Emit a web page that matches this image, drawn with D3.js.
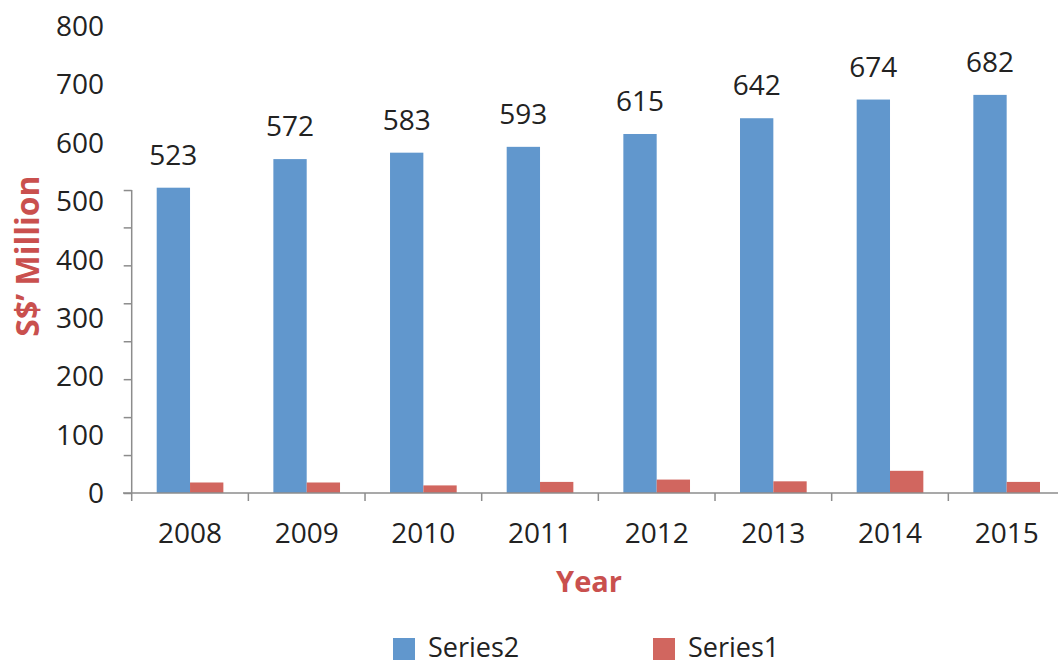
<!DOCTYPE html>
<html>
<head>
<meta charset="utf-8">
<script src="https://cdn.jsdelivr.net/npm/d3@7"></script>
<style>
  body { margin: 0; background: #fff; }
  svg { display: block; font-family: "Open Sans", "Noto Sans", sans-serif; }
</style>
</head>
<body>
<script>
// chart data
const years = ["2008", "2009", "2010", "2011", "2012", "2013", "2014", "2015"];
const series2 = [523, 572, 583, 593, 615, 642, 674, 682];
const series1 = [18, 18, 13, 19, 23, 20, 38, 19];
const yTickLabels = [0, 100, 200, 300, 400, 500, 600, 700, 800];
// the drawn axis line only runs part way up, with its own small marks
const axisMarks = [0, 65, 130, 195, 260, 325, 390, 455, 519];
const seriesNames = ["Series2", "Series1"];

const W = 1058, H = 663;
const COLORS = { Series2: "#6197cd", Series1: "#d1665f" };
const TITLE_RED = "#c9504e";
const AXIS_GRAY = "#8c8c8c";

const svg = d3.select("body").append("svg")
    .attr("width", W)
    .attr("height", H);

// scales
const y = d3.scaleLinear()
    .domain([0, 800])
    .range([493, 26]);

const x = d3.scaleBand()
    .domain(years)
    .range([131.7, 1065])   // last band runs past the right edge
    .paddingInner(0.4286)
    .paddingOuter(0.2143);

const xSub = d3.scaleBand()
    .domain(seriesNames)
    .range([0, x.bandwidth()]);

const rows = years.map((yr, i) => ({ year: yr, Series2: series2[i], Series1: series1[i] }));

// bars
const groups = svg.append("g").selectAll("g")
    .data(rows)
    .join("g")
    .attr("transform", d => `translate(${x(d.year)},0)`);

groups.selectAll("rect")
    .data(d => seriesNames.map(k => ({ key: k, value: d[k] })))
    .join("rect")
    .attr("x", d => xSub(d.key))
    .attr("width", xSub.bandwidth())
    .attr("y", d => y(d.value))
    .attr("height", d => y(0) - y(d.value))
    .attr("fill", d => COLORS[d.key]);

// value labels on Series2
svg.append("g").selectAll("text")
    .data(rows)
    .join("text")
    .attr("x", d => x(d.year) + xSub("Series2") + xSub.bandwidth() / 2)
    .attr("y", d => y(d.Series2) - 23)
    .attr("text-anchor", "middle")
    .attr("font-size", 28)
    .attr("fill", "#222")
    .text(d => d.Series2);

// x axis: line + marks between categories
const xAxisG = svg.append("g").attr("transform", `translate(0,${y(0)})`);
xAxisG.append("line")
    .attr("x1", 123).attr("x2", W)
    .attr("stroke", AXIS_GRAY).attr("stroke-width", 1.5);
const step = x.step();
xAxisG.selectAll(".xmark")
    .data(d3.range(years.length + 1))
    .join("line")
    .attr("class", "xmark")
    .attr("x1", i => x.range()[0] + i * step)
    .attr("x2", i => x.range()[0] + i * step)
    .attr("y1", 0).attr("y2", 8)
    .attr("stroke", AXIS_GRAY).attr("stroke-width", 1.5);

xAxisG.selectAll(".xlab")
    .data(years)
    .join("text")
    .attr("class", "xlab")
    .attr("x", d => x(d) + x.bandwidth() / 2)
    .attr("y", 50)
    .attr("text-anchor", "middle")
    .attr("font-size", 28)
    .attr("fill", "#222")
    .text(d => d);

// y axis: short line with its marks
const yAxis = d3.axisLeft(y)
    .tickValues(axisMarks)
    .tickFormat("")
    .tickSize(8)
    .tickSizeOuter(0);
const yAxisG = svg.append("g")
    .attr("transform", `translate(${x.range()[0]},0)`)
    .call(yAxis);
yAxisG.select(".domain").remove();
yAxisG.append("line")
    .attr("y1", y(0))
    .attr("y2", y(d3.max(axisMarks)))
    .attr("stroke", AXIS_GRAY).attr("stroke-width", 1.5);
yAxisG.selectAll(".tick line").attr("stroke", AXIS_GRAY).attr("stroke-width", 1.5);

// y tick labels
svg.append("g").selectAll("text")
    .data(yTickLabels)
    .join("text")
    .attr("x", 104)
    .attr("y", d => y(d) + 10)
    .attr("text-anchor", "end")
    .attr("font-size", 28)
    .attr("fill", "#222")
    .text(d => d);

// axis titles
svg.append("text")
    .attr("transform", "translate(39,256) rotate(-90)")
    .attr("text-anchor", "middle")
    .attr("font-size", 32)
    .attr("font-weight", "bold")
    .attr("fill", TITLE_RED)
    .text("S$\u2019 Million");

svg.append("text")
    .attr("x", 589)
    .attr("y", 592)
    .attr("text-anchor", "middle")
    .attr("font-size", 29)
    .attr("font-weight", "bold")
    .attr("fill", TITLE_RED)
    .text("Year");

// legend
const legendX = [393, 653];
const legend = svg.append("g").selectAll("g")
    .data(seriesNames)
    .join("g")
    .attr("transform", (d, i) => `translate(${legendX[i]},638)`);
legend.append("rect")
    .attr("width", 22).attr("height", 22)
    .attr("fill", d => COLORS[d]);
legend.append("text")
    .attr("x", 35)
    .attr("y", 19)
    .attr("font-size", 27)
    .attr("fill", "#222")
    .text(d => d);
</script>
</body>
</html>
